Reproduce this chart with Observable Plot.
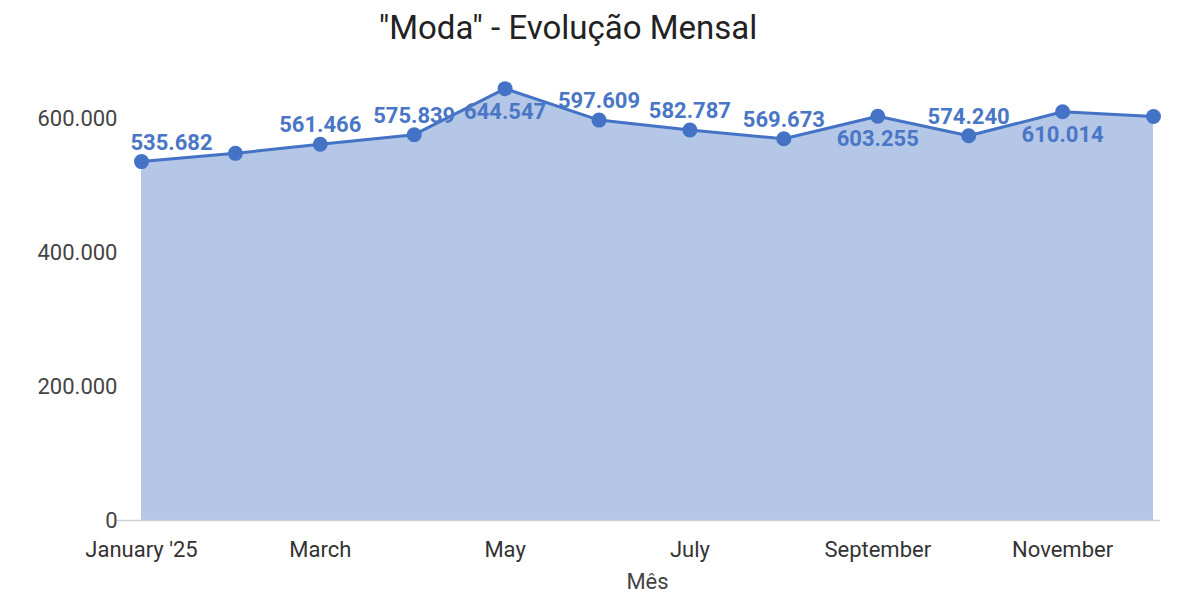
<!DOCTYPE html>
<html>
<head>
<meta charset="utf-8">
<script src="https://cdn.jsdelivr.net/npm/d3@7"></script>
<script src="https://cdn.jsdelivr.net/npm/@observablehq/plot@0.6"></script>
<style>
  html, body { margin: 0; padding: 0; background: #fff; }
  body { width: 1180px; height: 593px; overflow: hidden; font-family: Roboto, "Noto Sans", sans-serif; }
  #title { width: 1136px; height: 56px; line-height: 56px; text-align: center; font-size: 33px; color: #222; }
</style>
</head>
<body>
<div id="title">"Moda" - Evolução Mensal</div>
<div id="chart"></div>
<script>
const months = ["2025-01-01","2025-02-01","2025-03-01","2025-04-01","2025-05-01","2025-06-01","2025-07-01","2025-08-01","2025-09-01","2025-10-01","2025-11-01","2025-12-01"];
const values = [535682, 548000, 561466, 575839, 644547, 597609, 582787, 569673, 603255, 574240, 610014, 603000];
const labelPlacement = ["above","none","above","above","below","above","above","above","below","above","below","none"];
const yTicks = [0, 200000, 400000, 600000];
const xTicks = ["2025-01-01","2025-03-01","2025-05-01","2025-07-01","2025-09-01","2025-11-01"];
const xTickLabels = ["January '25","March","May","July","September","November"];
const xAxisLabel = "Mês";

const fmt = v => d3.format(",")(v).replace(/,/g, ".");
const parse = d3.utcParse("%Y-%m-%d");
const data = months.map((m, i) => ({date: parse(m), value: values[i], place: labelPlacement[i], idx: i}));
const tickDates = xTicks.map(parse);
const blue = "#4472c4";
const labelBlue = "#4a76c6";

const chart = Plot.plot({
  width: 1180,
  height: 537,
  marginLeft: 141,
  marginRight: 27,
  marginTop: 62,
  marginBottom: 73,
  style: {fontFamily: "Roboto, sans-serif", fontSize: "22px", background: "#fff"},
  x: {type: "utc", domain: [data[0].date, data[data.length - 1].date]},
  y: {domain: [0, 600000]},
  marks: [
    Plot.areaY(data, {x: "date", y: "value", fill: "#b4c7e7"}),
    Plot.ruleY([0], {stroke: "#d0d0d0", strokeWidth: 1.5, insetLeft: -26, insetRight: -7}),
    Plot.lineY(data, {x: "date", y: "value", stroke: blue, strokeWidth: 3}),
    Plot.dot(data, {x: "date", y: "value", r: 7.5, fill: blue}),
    Plot.text(data.filter(d => d.place === "above" && d.idx === 0), {
      x: "date", y: "value", text: d => fmt(d.value), dy: -19, dx: -11, textAnchor: "start",
      fill: labelBlue, fontWeight: "bold", fontSize: 22
    }),
    Plot.text(data.filter(d => d.place === "above" && d.idx !== 0), {
      x: "date", y: "value", text: d => fmt(d.value), dy: -19,
      fill: labelBlue, fontWeight: "bold", fontSize: 22
    }),
    Plot.text(data.filter(d => d.place === "below"), {
      x: "date", y: "value", text: d => fmt(d.value), dy: 23,
      fill: labelBlue, fontWeight: "bold", fontSize: 22
    }),
    Plot.axisX({ticks: tickDates, tickFormat: (d, i) => xTickLabels[tickDates.findIndex(t => +t === +d)], tickSize: 0, tickPadding: 21, label: null, fill: "#333", fontSize: 22}),
    Plot.axisY({ticks: yTicks, tickFormat: fmt, tickSize: 0, tickPadding: 24, label: null, fill: "#444", fontSize: 22}),
    Plot.text([xAxisLabel], {frameAnchor: "bottom", dy: 68, fill: "#444", fontSize: 22})
  ]
});
document.getElementById("chart").appendChild(chart);
</script>
</body>
</html>
